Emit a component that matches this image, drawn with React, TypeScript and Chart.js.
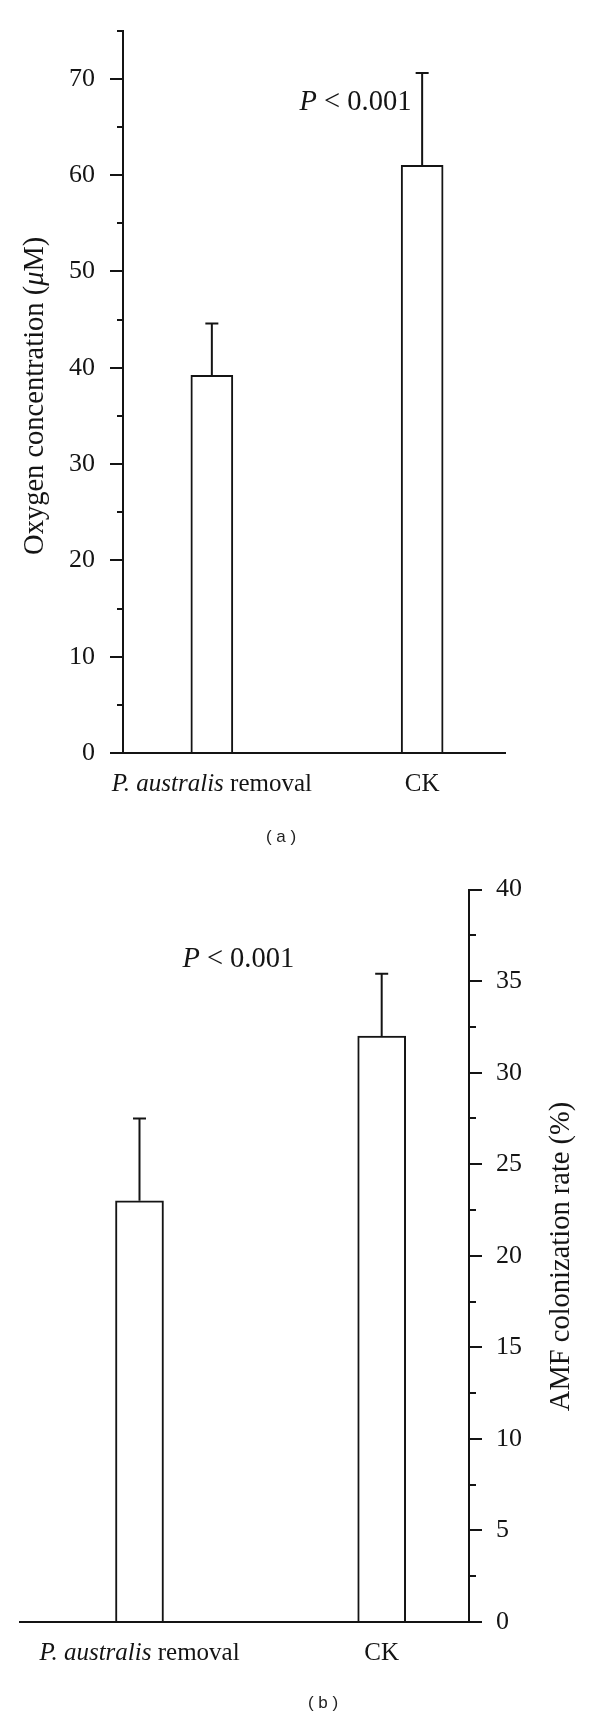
import React, { useEffect, useRef } from "react";
import { Chart, registerables } from "chart.js";

Chart.register(...registerables);

// ---------- data ----------
const categories = ["P. australis removal", "CK"];
const italicPrefixes = ["P. australis", ""];

const oxygenValues = [39.2, 61.0];
const oxygenErrors = [5.4, 9.6];

const amfValues = [23.0, 32.0];
const amfErrors = [4.5, 3.4];

const pValueText = "P < 0.001";

// ---------- styling ----------
const INK = "#141414";
const SERIF = "'Liberation Serif', 'Times New Roman', serif";
const TICK_SIZE = 26;
const LABEL_SIZE = 25;
const TITLE_SIZE = 28.5;
const P_SIZE = 28.5;

type Part = { text: string; italic?: boolean };

function fontOf(size: number, italic?: boolean) {
  return `${italic ? "italic " : ""}${size}px ${SERIF}`;
}

function drawRich(ctx: CanvasRenderingContext2D, parts: Part[], cx: number, y: number, size: number) {
  const widths = parts.map((p) => {
    ctx.font = fontOf(size, p.italic);
    return ctx.measureText(p.text).width;
  });
  const total = widths.reduce((a, b) => a + b, 0);
  let x = cx - total / 2;
  parts.forEach((p, i) => {
    ctx.font = fontOf(size, p.italic);
    ctx.fillText(p.text, x, y);
    x += widths[i];
  });
}

interface PanelSpec {
  id: string;
  values: number[];
  errors: number[];
  yMax: number;
  majorStep: number;
  minorStep: number;
  side: "left" | "right";
  xMin: number;
  xMax: number;
  barThickness: number;
  axisBoxWidth: number;
  padding: { left: number; right: number; top: number; bottom: number };
  labelPad: number;
  minorLen: number;
  title: Part[];
  titleGap: number;
  titleShift: number;
  pValuePos: { x: number; y: number };
}

const panelA: PanelSpec = {
  id: "a",
  values: oxygenValues,
  errors: oxygenErrors,
  yMax: 75,
  majorStep: 10,
  minorStep: 5,
  side: "left",
  xMin: 0.5775,
  xMax: 2.394,
  barThickness: 42,
  axisBoxWidth: 110,
  padding: { left: 13, right: 95, top: 21, bottom: 107 },
  labelPad: 15,
  minorLen: 6,
  title: [{ text: "Oxygen concentration (" }, { text: "\u03BC", italic: true }, { text: "M)" }],
  titleGap: 80.5,
  titleShift: 4,
  pValuePos: { x: 1.683, y: 66.8 },
};

const panelB: PanelSpec = {
  id: "b",
  values: amfValues,
  errors: amfErrors,
  yMax: 40,
  majorStep: 5,
  minorStep: 2.5,
  side: "right",
  xMin: 0.5066,
  xMax: 2.3605,
  barThickness: 48,
  axisBoxWidth: 90,
  padding: { left: 20, right: 41, top: 28, bottom: 98 },
  labelPad: 14,
  minorLen: 7,
  title: [{ text: "AMF colonization rate (%)" }],
  titleGap: 100,
  titleShift: 0.6,
  pValuePos: { x: 1.408, y: 35.75 },
};

function makePlugin(spec: PanelSpec) {
  return {
    id: "decor_" + spec.id,
    afterDatasetsDraw(chart: any) {
      const { ctx, scales } = chart;
      const xs = scales.x;
      const ys = scales.y;
      ctx.save();
      ctx.strokeStyle = INK;
      ctx.lineWidth = 2;
      spec.values.forEach((v, i) => {
        const px = xs.getPixelForValue(i + 1);
        const y0 = ys.getPixelForValue(v);
        const y1 = ys.getPixelForValue(v + spec.errors[i]);
        ctx.beginPath();
        ctx.moveTo(px, y0);
        ctx.lineTo(px, y1);
        ctx.moveTo(px - 6.5, y1);
        ctx.lineTo(px + 6.5, y1);
        ctx.stroke();
      });
      ctx.restore();
    },
    afterDraw(chart: any) {
      const { ctx, chartArea, scales } = chart;
      const xs = scales.x;
      const ys = scales.y;
      ctx.save();
      ctx.fillStyle = INK;
      ctx.textAlign = "left";
      ctx.textBaseline = "alphabetic";
      // category labels
      categories.forEach((c, i) => {
        const px = xs.getPixelForValue(i + 1);
        const it = italicPrefixes[i];
        const parts: Part[] = it ? [{ text: it, italic: true }, { text: c.slice(it.length) }] : [{ text: c }];
        drawRich(ctx, parts, px, chartArea.bottom + 38, LABEL_SIZE);
      });
      // p-value annotation
      const pParts: Part[] = [{ text: pValueText.slice(0, 1), italic: true }, { text: pValueText.slice(1) }];
      drawRich(ctx, pParts, xs.getPixelForValue(spec.pValuePos.x), ys.getPixelForValue(spec.pValuePos.y), P_SIZE);
      // axis title
      const tx = spec.side === "left" ? chartArea.left - spec.titleGap : chartArea.right + spec.titleGap;
      const ty = (chartArea.top + chartArea.bottom) / 2 + spec.titleShift;
      ctx.translate(tx, ty);
      ctx.rotate(-Math.PI / 2);
      drawRich(ctx, spec.title, 0, 0, TITLE_SIZE);
      ctx.restore();
    },
  };
}

function makeConfig(spec: PanelSpec): any {
  return {
    type: "bar",
    data: {
      datasets: [
        {
          data: spec.values.map((v, i) => ({ x: i + 1, y: v })),
          backgroundColor: "#ffffff",
          borderColor: INK,
          borderWidth: 2,
          borderSkipped: "bottom",
          barThickness: spec.barThickness,
        },
      ],
    },
    options: {
      responsive: false,
      animation: false,
      devicePixelRatio: 1,
      layout: { padding: spec.padding },
      plugins: { legend: { display: false }, tooltip: { enabled: false } },
      scales: {
        x: {
          type: "linear",
          position: "bottom",
          min: spec.xMin,
          max: spec.xMax,
          offset: false,
          ticks: { display: false },
          grid: { display: false, drawTicks: false },
          border: { display: true, color: INK, width: 2 },
          afterFit: (s: any) => {
            s.height = 0;
          },
        },
        y: {
          type: "linear",
          position: spec.side,
          weight: 1,
          min: 0,
          max: spec.yMax,
          ticks: {
            stepSize: spec.majorStep,
            includeBounds: false,
            color: INK,
            padding: spec.labelPad,
            font: { family: SERIF, size: TICK_SIZE },
            autoSkip: false,
          },
          grid: {
            display: true,
            drawOnChartArea: false,
            drawTicks: true,
            tickLength: 13,
            tickWidth: 2,
            tickColor: INK,
            lineWidth: 2,
            color: INK,
          },
          border: { display: true, color: INK, width: 2 },
          afterFit: (s: any) => {
            s.width = spec.axisBoxWidth;
          },
        },
        yMinor: {
          type: "linear",
          position: spec.side,
          weight: 0,
          min: 0,
          max: spec.yMax,
          ticks: { stepSize: spec.minorStep, display: false, autoSkip: false },
          grid: {
            display: true,
            drawOnChartArea: false,
            drawTicks: true,
            tickLength: spec.minorLen,
            tickWidth: 2,
            tickColor: INK,
            lineWidth: 2,
            color: INK,
          },
          border: { display: false },
          afterFit: (s: any) => {
            s.width = 0;
          },
        },
      },
    },
    plugins: [makePlugin(spec)],
  };
}

function Panel({ spec, top }: { spec: PanelSpec; top: number }) {
  const ref = useRef<HTMLCanvasElement>(null);
  useEffect(() => {
    if (!ref.current) return;
    const chart = new Chart(ref.current, makeConfig(spec));
    return () => chart.destroy();
  }, [spec]);
  return (
    <canvas
      ref={ref}
      width={600}
      height={860}
      style={{ position: "absolute", left: 0, top, width: 600, height: 860, display: "block" }}
    />
  );
}

const captionStyle: React.CSSProperties = {
  position: "absolute",
  width: 100,
  textAlign: "center",
  fontFamily: "'Liberation Sans', Arial, sans-serif",
  fontSize: 17,
  lineHeight: "20px",
  color: "#222",
  whiteSpace: "pre",
};

export default function App() {
  return (
    <div style={{ position: "absolute", left: 0, top: 0, width: 600, height: 1720, background: "#fff", overflow: "hidden" }}>
      <Panel spec={panelA} top={0} />
      <Panel spec={panelB} top={860} />
      <div style={{ ...captionStyle, left: 231, top: 827 }}>( a )</div>
      <div style={{ ...captionStyle, left: 273, top: 1693 }}>( b )</div>
    </div>
  );
}
